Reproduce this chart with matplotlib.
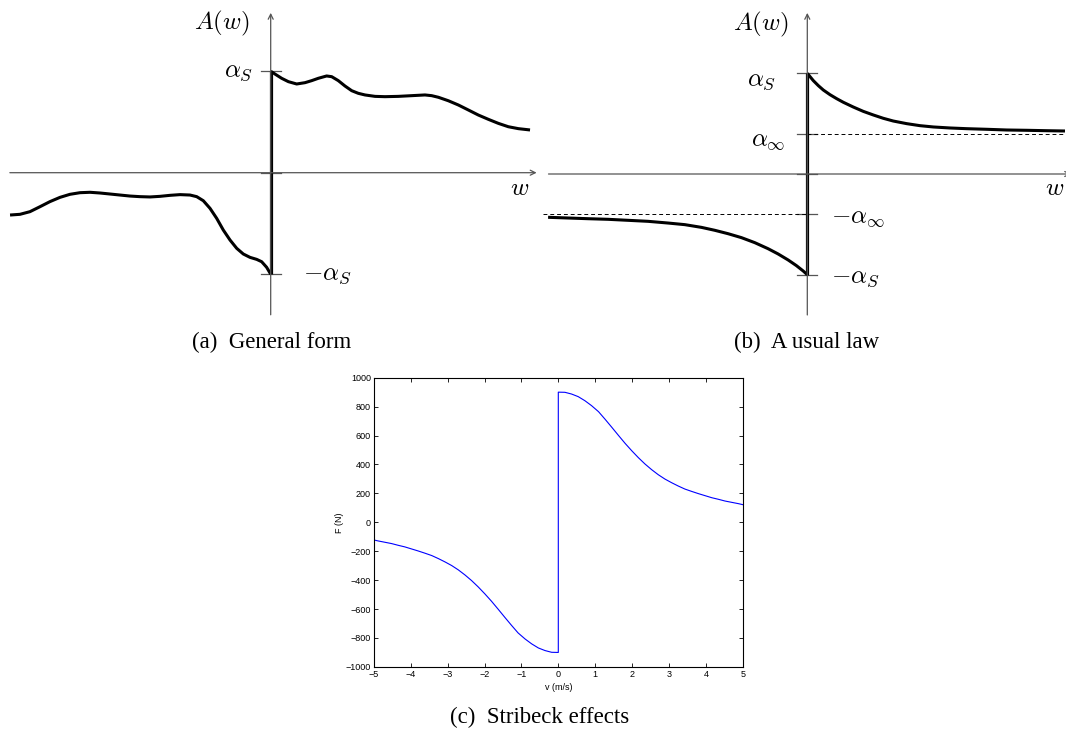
import matplotlib
matplotlib.use("Agg")
import matplotlib.pyplot as plt

plt.rcParams["mathtext.fontset"] = "cm"

# (a) general form: points (alpha_S = 1)
w_a_pos = [0.000, 0.042, 0.108, 0.174, 0.256, 0.338, 0.404, 0.469, 0.551, 0.601, 0.666,
           0.732, 0.798, 0.863, 0.929, 1.028, 1.126, 1.257, 1.389, 1.520, 1.586, 1.652,
           1.750, 1.849, 1.947, 2.046, 2.144, 2.243, 2.341, 2.440, 2.555]
A_a_pos = [1.000, 0.972, 0.930, 0.897, 0.874, 0.887, 0.907, 0.930, 0.953, 0.946, 0.907,
           0.854, 0.808, 0.782, 0.766, 0.752, 0.749, 0.752, 0.759, 0.766, 0.759, 0.743,
           0.709, 0.667, 0.618, 0.568, 0.526, 0.486, 0.453, 0.434, 0.421]
w_a_neg = [-2.568, -2.470, -2.372, -2.273, -2.175, -2.076, -1.978, -1.879, -1.780, -1.682,
           -1.583, -1.485, -1.386, -1.288, -1.189, -1.091, -0.992, -0.893, -0.795, -0.729,
           -0.664, -0.598, -0.532, -0.467, -0.401, -0.335, -0.270, -0.204, -0.138, -0.089,
           -0.040, 0.000]
A_a_neg = [-0.417, -0.410, -0.384, -0.335, -0.285, -0.243, -0.213, -0.197, -0.193, -0.200,
           -0.210, -0.220, -0.230, -0.236, -0.239, -0.233, -0.223, -0.216, -0.220, -0.236,
           -0.276, -0.351, -0.450, -0.565, -0.663, -0.745, -0.801, -0.834, -0.854, -0.877,
           -0.932, -1.000]

# (b) usual law
alpha_inf = 0.40
w_b_pos = [0.000, 0.027, 0.060, 0.110, 0.159, 0.225, 0.292, 0.358, 0.457, 0.556, 0.656,
           0.755, 0.854, 0.987, 1.119, 1.252, 1.417, 1.583, 1.781, 1.980, 2.179, 2.377, 2.559]
A_b_pos = [1.000, 0.967, 0.927, 0.877, 0.834, 0.788, 0.748, 0.712, 0.665, 0.622, 0.586,
           0.553, 0.526, 0.500, 0.480, 0.467, 0.457, 0.450, 0.444, 0.437, 0.434, 0.430, 0.427]
w_b_neg = [-2.574, -2.375, -2.176, -1.978, -1.779, -1.581, -1.382, -1.216, -1.051, -0.919,
           -0.786, -0.654, -0.521, -0.389, -0.290, -0.190, -0.108, -0.041, 0.000]
A_b_neg = [-0.430, -0.437, -0.444, -0.450, -0.460, -0.470, -0.487, -0.503, -0.530, -0.559,
           -0.593, -0.632, -0.682, -0.742, -0.794, -0.854, -0.910, -0.963, -1.000]

# (c) Stribeck curve, F (N) against v (m/s)
v_neg = [-5.00, -4.88, -4.70, -4.52, -4.34, -4.16, -3.98, -3.80, -3.61, -3.43, -3.25,
         -3.07, -2.89, -2.71, -2.53, -2.35, -2.17, -1.99, -1.81, -1.63, -1.45, -1.27,
         -1.09, -0.90, -0.72, -0.54, -0.36, -0.18, 0.00]
F_neg = [-122, -129, -138, -147, -159, -170, -184, -198, -214, -230, -251,
         -274, -299, -329, -364, -403, -447, -495, -546, -601, -657, -712,
         -765, -807, -841, -869, -887, -899, -900]
v_pos = [0.00, 0.18, 0.36, 0.54, 0.72, 0.90, 1.09, 1.27, 1.45, 1.63, 1.81, 1.99, 2.17,
         2.35, 2.53, 2.71, 2.89, 3.07, 3.25, 3.43, 3.61, 3.80, 3.98, 4.16, 4.34, 4.52,
         4.70, 4.88, 5.00]
F_pos = [900, 899, 887, 869, 841, 807, 765, 712, 657, 601, 546, 495, 447,
         403, 364, 329, 299, 274, 251, 230, 214, 198, 184, 170, 159, 147,
         138, 129, 122]

W, H = 1066, 733
fig = plt.figure(figsize=(W / 100, H / 100), dpi=100)

AXC = "#555555"
serif = "Liberation Serif"
MATH = 18


def sketch_axes(ox, oy, scale, xr=2.65, yr=1.7):
    # axes whose data origin sits at pixel (ox, oy), measured from top-left
    left = (ox - xr * scale) / W
    bottom = (H - (oy + yr * scale)) / H
    ax = fig.add_axes([left, bottom, 2 * xr * scale / W, 2 * yr * scale / H])
    ax.set_xlim(-xr, xr)
    ax.set_ylim(-yr, yr)
    ax.axis("off")
    return ax


def arrow(ax, start, end):
    ax.annotate("", xy=end, xytext=start, annotation_clip=False,
                arrowprops=dict(arrowstyle="->", color=AXC, lw=0.9,
                                mutation_scale=9, shrinkA=0, shrinkB=0))


def tick(ax, y):
    ax.plot([-0.1, 0.1], [y, y], color=AXC, lw=0.9, clip_on=False)


def curve(ax, x, y):
    ax.plot(x, y, color="black", lw=2.2, clip_on=False,
            solid_joinstyle="round", solid_capstyle="butt")


# ---- (a)
ax = sketch_axes(270.7, 172.7, 101.5)
arrow(ax, (-2.57, 0), (2.62, 0))
arrow(ax, (0, -1.40), (0, 1.575))
for y in [1, 0, -1]:
    tick(ax, y)
ax.plot([0, 0], [-1, 1], color="black", lw=2.3, solid_capstyle="butt")
curve(ax, w_a_pos, A_a_pos)
curve(ax, w_a_neg, A_a_neg)
ax.text(-0.48, 1.475, r"$A(w)$", fontsize=MATH, ha="center", va="center")
ax.text(-0.17, 1.0, r"$\alpha_S$", fontsize=MATH, ha="right", va="center")
ax.text(0.32, -1.0, r"$-\alpha_S$", fontsize=MATH, ha="left", va="center")
ax.text(2.45, -0.15, r"$w$", fontsize=MATH, ha="center", va="center")

# ---- (b)
ax = sketch_axes(807.3, 174.0, 100.7)
arrow(ax, (-2.57, 0), (2.62, 0))
arrow(ax, (0, -1.40), (0, 1.60))
for y in [1, alpha_inf, 0, -alpha_inf, -1]:
    tick(ax, y)
ax.plot([0, 2.6], [alpha_inf, alpha_inf], color="black", lw=0.7, ls=(0, (4, 3)), clip_on=False)
ax.plot([-2.62, 0], [-alpha_inf, -alpha_inf], color="black", lw=0.7, ls=(0, (4, 3)), clip_on=False)
ax.plot([0, 0], [-1, 1], color="black", lw=2.3, solid_capstyle="butt")
curve(ax, w_b_pos, A_b_pos)
curve(ax, w_b_neg, A_b_neg)
ax.text(-0.46, 1.49, r"$A(w)$", fontsize=MATH, ha="center", va="center")
ax.text(-0.31, 0.93, r"$\alpha_S$", fontsize=MATH, ha="right", va="center")
ax.text(-0.22, 0.34, r"$\alpha_\infty$", fontsize=MATH, ha="right", va="center")
ax.text(0.24, -0.43, r"$-\alpha_\infty$", fontsize=MATH, ha="left", va="center")
ax.text(0.24, -1.02, r"$-\alpha_S$", fontsize=MATH, ha="left", va="center")
ax.text(2.46, -0.14, r"$w$", fontsize=MATH, ha="center", va="center")

# ---- (c)
ax = fig.add_axes([373.8 / W, (H - 666.9) / H, 369.0 / W, 289.2 / H])
ax.plot(v_neg + v_pos, F_neg + F_pos, color="#0000ff", lw=0.8)
ax.set_xlim(-5, 5)
ax.set_ylim(-1000, 1000)
ax.set_xticks(range(-5, 6))
ax.set_yticks(range(-1000, 1001, 200))
ax.tick_params(direction="in", length=3, width=0.6, labelsize=6.5, pad=2,
               top=True, right=True)
for lab in ax.get_xticklabels() + ax.get_yticklabels():
    lab.set_family("Liberation Sans")
for s in ax.spines.values():
    s.set_linewidth(0.8)
ax.set_xlabel("v (m/s)", fontsize=6.5, family="Liberation Sans", labelpad=3)
ax.set_ylabel("F (N)", fontsize=6.5, family="Liberation Sans", labelpad=1)

# captions
fig.text(272 / W, 1 - 342 / H, "(a)  General form", fontsize=16.5, family=serif, ha="center", va="center")
fig.text(807 / W, 1 - 342 / H, "(b)  A usual law", fontsize=16.5, family=serif, ha="center", va="center")
fig.text(540 / W, 1 - 717 / H, "(c)  Stribeck effects", fontsize=16.5, family=serif, ha="center", va="center")

fig.savefig("out.png", dpi=100)
